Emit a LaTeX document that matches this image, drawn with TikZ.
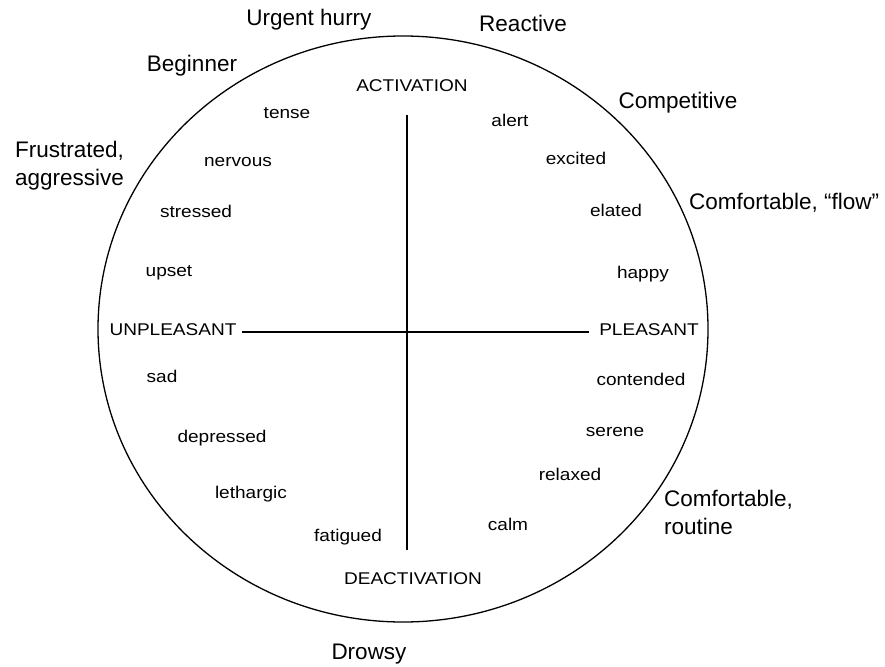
\documentclass[tikz,border=0pt]{standalone}
\usepackage{fontspec}
\setmainfont{Liberation Sans}
\newfontfamily\outerfont{Liberation Sans}
\newfontfamily\innerfont[FakeStretch=1.12]{Liberation Sans}
\newfontfamily\axisfont[FakeStretch=1.12]{Liberation Sans}
\begin{document}
\begin{tikzpicture}[x=1pt,y=-1pt,
  outer/.style={font=\outerfont\fontsize{22.5}{28}\selectfont, inner sep=0pt, align=left},
  inner/.style={font=\innerfont\fontsize{17}{20}\selectfont, inner sep=0pt},
  axislabel/.style={font=\axisfont\fontsize{17}{20}\selectfont, inner sep=0pt},
  vaxis/.style={line width=1.3pt},
  haxis/.style={line width=1.8pt}]
\useasboundingbox (0,0) rectangle (885,666);
\draw[line width=1.3pt] (403,329) ellipse [x radius=305, y radius=293];
% axes
\coordinate (vtop) at (407,115);
\coordinate (vbot) at (407,550);
\coordinate (hl) at (242,332);
\coordinate (hr) at (589,332);
\draw[vaxis] (vtop) -- (vbot);
\draw[haxis] (hl) -- (hr);
% axis labels
\node[axislabel] (act) at (412,86) {ACTIVATION};
\node[axislabel] (deact) at (413,579) {DEACTIVATION};
\node[axislabel] (unp) at (173,330) {UNPLEASANT};
\node[axislabel] (pl) at (649,330) {PLEASANT};
% inner labels
\node[inner] (tense) at (287,113) {tense};
\node[inner] (nervous) at (238,162) {nervous};
\node[inner] (stressed) at (196,211) {stressed};
\node[inner] (upset) at (169,273) {upset};
\node[inner] (sad) at (162,376) {sad};
\node[inner] (depressed) at (222,438) {depressed};
\node[inner] (lethargic) at (251,494) {lethargic};
\node[inner] (fatigued) at (348,537) {fatigued};
\node[inner] (alert) at (510,120) {alert};
\node[inner] (excited) at (576,158) {excited};
\node[inner] (elated) at (616,210) {elated};
\node[inner] (happy) at (643,274) {happy};
\node[inner] (contended) at (641,379) {contended};
\node[inner] (serene) at (615,432) {serene};
\node[inner] (relaxed) at (570,474) {relaxed};
\node[inner] (calm) at (508,524) {calm};
% outer labels
\node[outer] (urgent) at (309,20) {Urgent hurry};
\node[outer] (reactive) at (523,23) {Reactive};
\node[outer] (beginner) at (192,66) {Beginner};
\node[outer] (competitive) at (678,103) {Competitive};
\node[outer, anchor=west] (frustrated) at (15,166) {Frustrated,\\aggressive};
\node[outer, anchor=west] (flow) at (689,203) {Comfortable, “flow”};
\node[outer, anchor=west] (routine) at (664,512) {Comfortable,\\routine};
\node[outer] (drowsy) at (369,654) {Drowsy};
\end{tikzpicture}
\end{document}
